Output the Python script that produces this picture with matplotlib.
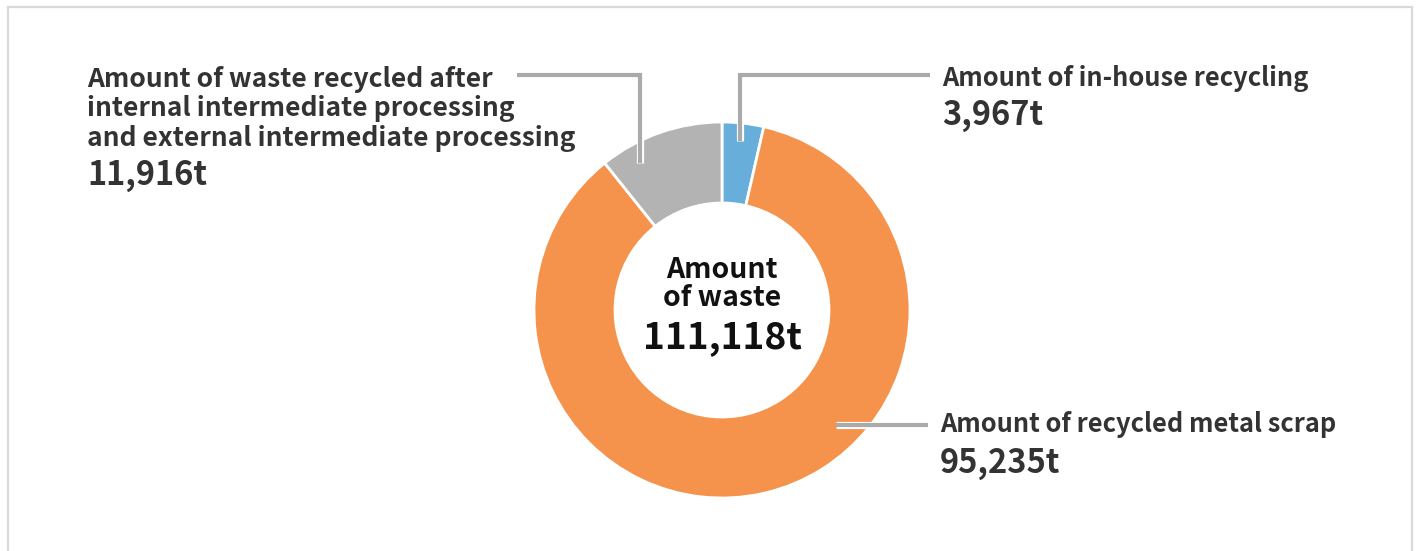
import matplotlib
matplotlib.use("Agg")
import matplotlib.pyplot as plt
import matplotlib.patheffects as pe
from matplotlib.patches import Rectangle

# ---- data ----
categories = ["Amount of in-house recycling",
              "Amount of recycled metal scrap",
              "Amount of waste recycled after\ninternal intermediate processing\nand external intermediate processing"]
values = [3967, 95235, 11916]
value_labels = ["3,967t", "95,235t", "11,916t"]
total_label = "111,118t"
center_title = "Amount\nof waste"
colors = ["#68aedb", "#f5924b", "#b3b3b3"]

W, H = 1417, 551
plt.rcParams['font.family'] = ['Noto Sans CJK JP', 'DejaVu Sans']
fig = plt.figure(figsize=(W / 100, H / 100), dpi=100)
ax = fig.add_axes([0, 0, 1, 1])
ax.set_xlim(0, W)
ax.set_ylim(0, H)
ax.set_aspect('equal')
ax.axis('off')

def Y(yp):
    return H - yp

# frame
ax.add_patch(Rectangle((8, -20), 1404, Y(7) + 20, fill=False, edgecolor="#d9d9d9", linewidth=1.6))

cx, cy = 722, Y(310)
R, r = 188, 107
ax.pie(values, colors=colors, startangle=90, counterclock=False, radius=R, center=(cx, cy),
       wedgeprops=dict(width=R - r, edgecolor='white', linewidth=2))
ax.set_xlim(0, W)
ax.set_ylim(0, H)

lc = "#aaaaaa"
peff = [pe.Stroke(linewidth=5.2, foreground='white'), pe.Normal()]
def leader(xs, ys):
    ax.plot(xs, [Y(v) for v in ys], color=lc, linewidth=3.0, solid_joinstyle='miter',
            solid_capstyle='butt', path_effects=peff, zorder=5)

leader([740, 740, 930], [141, 75, 75])
leader([640, 640, 517], [163, 75, 75])
leader([836, 928], [425, 425])

tc = "#333333"
ax.text(942, Y(78), categories[0], fontsize=18.3, fontweight='bold', color=tc, ha='left', va='center')
ax.text(942, Y(115), value_labels[0], fontsize=23.5, fontweight='bold', color=tc, ha='left', va='center')

ax.text(940, Y(425), categories[1], fontsize=18.3, fontweight='bold', color=tc, ha='left', va='center')
ax.text(940, Y(464), value_labels[1], fontsize=23.5, fontweight='bold', color=tc, ha='left', va='center')

ax.text(87, Y(109), categories[2], fontsize=19, fontweight='bold', color=tc, ha='left', va='center',
        linespacing=1.1)
ax.text(87, Y(175), value_labels[2], fontsize=23.5, fontweight='bold', color=tc, ha='left', va='center')

ax.text(cx, Y(284), center_title, fontsize=20.4, fontweight='bold', color="#111111", ha='center', va='center',
        linespacing=1.0)
ax.text(cx, Y(338), total_label, fontsize=26.7, fontweight='bold', color="#111111", ha='center', va='center')

fig.savefig("out.png", dpi=100, facecolor='white')
